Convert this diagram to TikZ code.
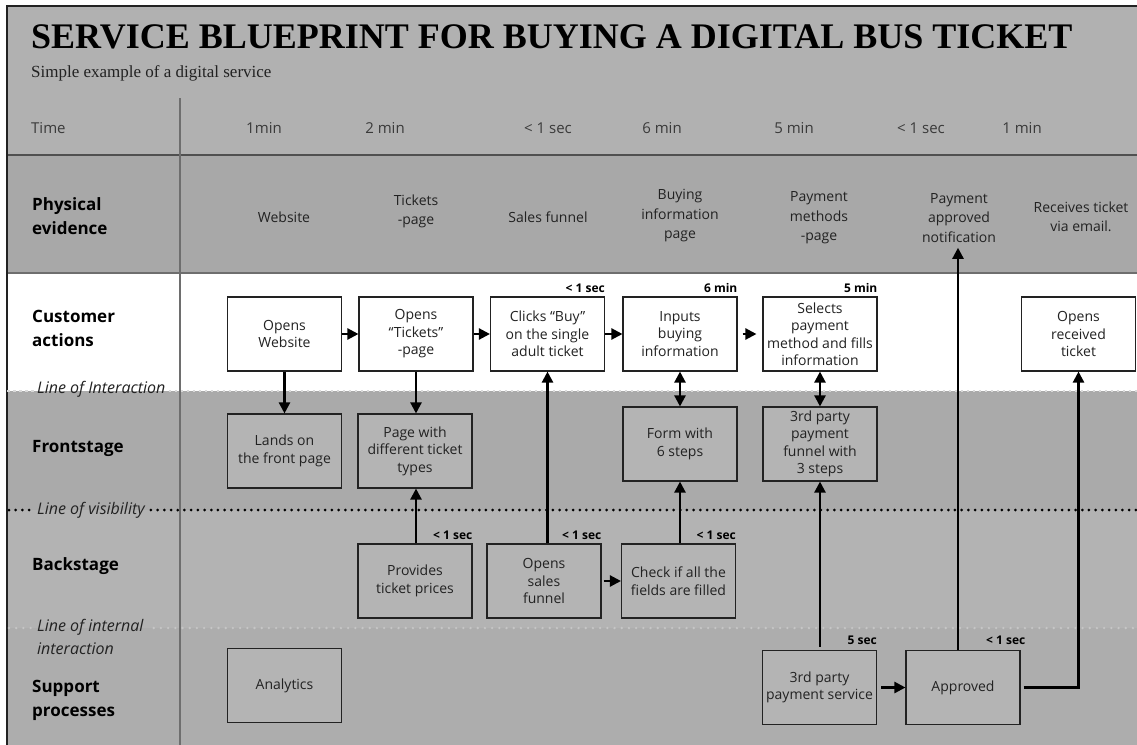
\documentclass[tikz,border=0pt]{standalone}
\usepackage{fontspec}
\setmainfont{Open Sans}
\newfontfamily\serifhead{Liberation Serif}
\usetikzlibrary{arrows.meta,calc}
\definecolor{topgray}{HTML}{B1B1B1}
\definecolor{evgray}{HTML}{A8A8A8}
\definecolor{frontgray}{HTML}{AAAAAA}
\definecolor{backgray}{HTML}{B3B3B3}
\definecolor{supgray}{HTML}{ADADAD}
\definecolor{boxgray}{HTML}{B4B4B4}
\definecolor{ink}{HTML}{222222}
\definecolor{rule}{HTML}{505050}
\definecolor{softrule}{HTML}{6E6E6E}
\definecolor{timeink}{HTML}{3A3A3A}
\definecolor{dotlight}{HTML}{D9D9D9}
\definecolor{dotmid}{HTML}{C6C6C6}

\begin{document}
\begin{tikzpicture}[x=1pt,y=-1pt,
  box/.style={draw=ink, line width=1.1pt, minimum width=114pt, minimum height=74pt,
    inner sep=2pt, align=center, text=ink, font=\fontsize{14}{17.5}\selectfont},
  custbox/.style={box, fill=white},
  greybox/.style={box, fill=boxgray},
  flow/.style={line width=2.3pt, draw=black, -{Triangle[length=11pt,width=11pt]}},
  twoway/.style={line width=2.3pt, draw=black,
    {Triangle[length=11pt,width=11pt]}-{Triangle[length=11pt,width=11pt]}},
  dur/.style={font=\bfseries\fontsize{12}{14}\selectfont, anchor=base east, inner sep=0pt, text=black},
  lane/.style={font=\bfseries\fontsize{17}{24}\selectfont, align=left, anchor=west, inner sep=0pt, text=black},
  sep/.style={font=\itshape\fontsize{16}{22}\selectfont, anchor=west, inner sep=0pt, text=ink},
  tick/.style={font=\fontsize{15}{18}\selectfont, anchor=base, inner sep=0pt, text=timeink},
  evid/.style={font=\fontsize{14}{19.5}\selectfont, align=center, text=ink, inner sep=0pt},
  interdots/.style={draw=dotlight, line width=2.2pt, dash pattern=on 2.6pt off 3.4pt},
  visdots/.style={draw=black, line width=3pt, line cap=round, dash pattern=on 0pt off 6.7pt},
  intdots/.style={draw=dotmid, line width=2.6pt, line cap=round, dash pattern=on 0pt off 7.2pt},
]
\useasboundingbox (0,0) rectangle (1137,744);

% swim-lane backgrounds
\fill[topgray]   (7,6)   rectangle (1140,155);
\fill[evgray]    (7,155) rectangle (1140,273);
\fill[white]     (7,273) rectangle (1140,391);
\fill[frontgray] (7,391) rectangle (1140,510);
\fill[backgray]  (7,510) rectangle (1140,628);
\fill[supgray]   (7,628) rectangle (1140,750);

% rules and frame
\draw[rule, line width=1.3pt] (7,155) -- (1140,155);
\draw[softrule, line width=1.2pt] (7,273) -- (1140,273);
\draw[softrule, line width=1.4pt] (180,98) -- (180,750);
\draw[ink, line width=1.5pt] (7,750) -- (7,6) -- (1145,6);

% title
\node[anchor=base west, inner sep=0pt, font=\serifhead\bfseries\fontsize{36}{40}\selectfont] (title)
  at (31,48) {SERVICE BLUEPRINT FOR BUYING A DIGITAL BUS TICKET};
\node[anchor=base west, inner sep=0pt, font=\serifhead\fontsize{17}{20}\selectfont, text=ink] (subtitle)
  at (31,77) {Simple example of a digital service};

% time row
\node[tick, anchor=base west] (tlabel) at (31,133.5) {Time};
\node[tick] (t1) at (264,133.5) {1min};
\node[tick] (t2) at (385,133.5) {2 min};
\node[tick] (t3) at (548,133.5) {< 1 sec};
\node[tick] (t4) at (662,133.5) {6 min};
\node[tick] (t5) at (794,133.5) {5 min};
\node[tick] (t6) at (921,133.5) {< 1 sec};
\node[tick] (t7) at (1022,133.5) {1 min};

% lane titles
\node[lane] (lpe) at (32,216) {Physical\\evidence};
\node[lane] (lca) at (32,328) {Customer\\actions};
\node[lane] (lfs) at (32,448) {Frontstage};
\node[lane] (lbs) at (32,566) {Backstage};
\node[lane] (lsp) at (32,700) {Support\\processes};

% separator lines with their labels
\node[sep] (loi) at (37,389) {Line of Interaction};
\draw[interdots] (7,391) -- ($(loi.west |- 0,391)+(-3,0)$);
\draw[interdots] ($(loi.east |- 0,391)+(3,0)$) -- (1140,391);

\node[sep] (lov) at (37,510) {Line of visibility};
\draw[visdots] (9,510) -- ($(lov.west)+(-4,0)$);
\draw[visdots] ($(lov.east)+(6,0)$) -- (1140,510);

\node[sep] (lii) at (37,627) {Line of internal};
\node[sep] (lii2) at (37,649) {interaction};
\draw[intdots] (9,628) -- ($(lii.west |- 0,628)+(-4,0)$);
\draw[intdots] ($(lii.east |- 0,628)+(10,0)$) -- (1140,628);

% physical evidence
\node[evid] (pe1) at (284,217) {Website};
\node[evid] (pe2) at (416,211.5) {Tickets\\-page};
\node[evid] (pe3) at (548,217) {Sales funnel};
\node[evid] (pe4) at (680,216) {Buying\\information\\page};
\node[evid] (pe5) at (819,218) {Payment\\methods\\-page};
\node[evid] (pe6) at (959,218) {Payment\\approved\\notification};
\node[evid] (pe7) at (1081,217) {Receives ticket\\via email.};

% customer actions
\node[custbox] (ca1) at (284.5,334) {Opens\\Website};
\node[custbox] (ca2) at (416,334) {Opens\\“Tickets”\\-page};
\node[custbox] (ca3) at (547.5,334) {Clicks “Buy”\\on the single\\adult ticket};
\node[custbox] (ca4) at (680,334) {Inputs\\buying\\information};
\node[custbox] (ca5) at (820,334) {Selects\\payment\\method and fills\\information};
\node[custbox] (ca6) at (1078.5,334) {Opens\\received\\ticket};

% frontstage
\node[greybox] (fs1) at (284.5,451) {Lands on\\the front page};
\node[greybox] (fs2) at (415,451) {Page with\\different ticket\\types};
\node[greybox] (fs3) at (680,444) {Form with\\6 steps};
\node[greybox] (fs4) at (820,444) {3rd party\\payment\\funnel with\\3 steps};

% backstage
\node[greybox] (bs1) at (415,581) {Provides\\ticket prices};
\node[greybox] (bs2) at (544,581) {Opens\\sales\\funnel};
\node[greybox] (bs3) at (678.5,581) {Check if all the\\fields are filled};

% support processes
\node[greybox] (sp1) at (284.5,685.5) {Analytics};
\node[greybox] (sp2) at (819.5,687.5) {3rd party\\payment service};
\node[greybox] (sp3) at (963,687.5) {Approved};

% durations
\node[dur] (d1) at ($(ca3.north east)+(0,-4)$) {< 1 sec};
\node[dur] (d2) at ($(ca4.north east)+(0,-4)$) {6 min};
\node[dur] (d3) at ($(ca5.north east)+(0,-4)$) {5 min};
\node[dur] (d4) at ($(bs1.north east)+(0,-4)$) {< 1 sec};
\node[dur] (d5) at ($(bs2.north east)+(0,-4)$) {< 1 sec};
\node[dur] (d6) at ($(bs3.north east)+(0,-4)$) {< 1 sec};
\node[dur] (d7) at ($(sp2.north east)+(0,-5)$) {5 sec};
\node[dur] (d8) at ($(sp3.north east)+(5,-5)$) {< 1 sec};

% flows
\draw[flow] (ca1.south) -- (fs1.north);
\draw[flow] (ca1.east) -- (ca2.west);
\draw[flow] (ca2.south) -- (ca2.south |- fs2.north);
\draw[flow] (ca2.east) -- (ca3.west);
\draw[flow] (ca3.east) -- (ca4.west);
\draw[flow, shorten <=5pt, shorten >=6pt] (ca4.east) -- (ca5.west);
\draw[twoway] (ca4.south) -- (fs3.north);
\draw[twoway] (ca5.south) -- (fs4.north);
\draw[flow] (ca2.south |- bs1.north) -- (ca2.south |- fs2.south);
\draw[flow] (ca3.south |- bs2.north) -- (ca3.south);
\draw[flow, shorten <=2pt] (bs2.east) -- (bs3.west);
\draw[flow] (fs3.south |- bs3.north) -- (fs3.south);
\draw[flow] ($(fs4.south |- sp2.north)+(0,-3)$) -- (fs4.south);
\draw[flow, shorten <=4pt] (sp2.east) -- (sp3.west);
\draw[flow, shorten >=5pt] ($(pe6.south |- sp3.north)+(-1,0)$) -- ($(pe6.south)+(-1,0)$);
\draw[flow, shorten <=3pt] (sp3.east) -| (ca6.south);

\end{tikzpicture}
\end{document}
